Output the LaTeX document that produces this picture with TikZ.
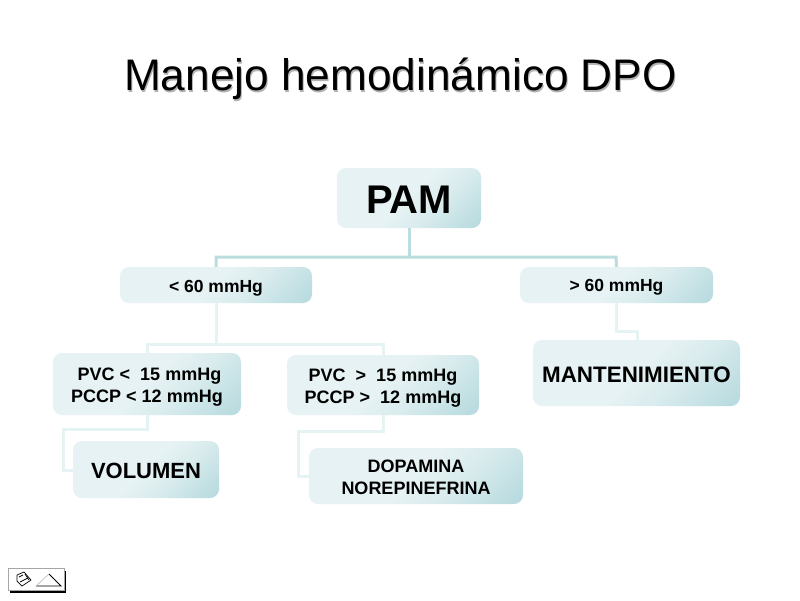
\documentclass[tikz,border=0pt]{standalone}
\usepackage{fontspec}
\setmainfont{Liberation Sans}
\definecolor{boxa}{HTML}{E6F2F3}
\definecolor{boxb}{HTML}{DAECEE}
\definecolor{boxc}{HTML}{BADCE0}
\definecolor{linedark}{HTML}{BBDDE0}
\definecolor{linelight}{HTML}{E6F3F4}
\pgfdeclarehorizontalshading{boxgrad}{100bp}{color(0bp)=(boxa); color(25bp)=(boxa); color(50bp)=(boxa); color(62bp)=(boxb); color(82bp)=(boxc); color(100bp)=(boxc)}
\tikzset{
 card/.style={shade,shading=boxgrad,shading angle=-45,rounded corners=9pt,inner sep=0pt,minimum width=#1},
 cardtext/.style={inner sep=0pt,align=center,text=black},
 topline/.style={draw=linedark,line width=3pt},
 subline/.style={draw=linelight,line width=3pt},
 titletext/.style={inner sep=0pt,font=\fontsize{44.2}{50}\selectfont},
}
\newcommand{\card}[8][-1.5pt]{\node[card=#5pt,minimum height=#6pt,label={[cardtext,yshift=#1,font=\bfseries\fontsize{#7}{22}\selectfont]center:{#8}}] (#2) at (#3,#4) {};}
\begin{document}
\begin{tikzpicture}[x=1pt,y=-1pt]
\useasboundingbox (0,0) rectangle (800,600);
\fill[white] (0,0) rectangle (800,600);
% title
\node[titletext,text=black!30] at (401.5,80.5) {Manejo hemodinámico DPO};
\node[titletext,text=black] (title) at (400.5,79) {Manejo hemodinámico DPO};
% connectors
\coordinate (hub) at (409,257);
\coordinate (hubL) at (216,257);
\coordinate (hubR) at (616,257);
\coordinate (midL) at (216,344);
\coordinate (midA) at (147,344);
\coordinate (midB) at (383,344);
\coordinate (volA) at (147,429);
\coordinate (volB) at (63,429);
\coordinate (volC) at (63,470);
\coordinate (dopA) at (383,431);
\coordinate (dopB) at (298,431);
\coordinate (dopC) at (298,476);
\coordinate (manA) at (616,331);
\coordinate (manB) at (637,331);
% boxes
\card{pam}{409}{198}{144}{60}{40}{PAM}
\card[-3pt]{lt}{216}{285}{192}{36}{17.5}{< 60 mmHg}
\card[-2.5pt]{gt}{616.5}{285}{193}{36}{17.5}{> 60 mmHg}
\card{man}{636.5}{373}{207}{66}{22.4}{MANTENIMIENTO}
\card[-3pt]{pvca}{147}{384}{188}{62}{18}{\ PVC <\ \ 15 mmHg\\PCCP < 12 mmHg}
\card[-3pt]{pvcb}{383}{385}{192}{60}{18}{PVC \ >\ \ 15 mmHg\\PCCP >\ \ 12 mmHg}
\card[-1pt]{vol}{146}{469.5}{146}{57}{22}{VOLUMEN}
\card[-1pt]{dop}{416}{476}{214}{56}{18}{DOPAMINA\\NOREPINEFRINA}
\draw[topline] (pam.south) -- (hub);
\draw[topline] (lt.north) -- (hubL) -- (hubR) -- (gt.north);
\draw[subline] (lt.south) -- (midL);
\draw[subline] (pvca.north -| midA) -- (midA) -- (midB) -- (pvcb.north -| midB);
\draw[subline] (pvca.south -| volA) -- (volA) -- (volB) -- (volC) -- (vol.west |- volC);
\draw[subline] (pvcb.south -| dopA) -- (dopA) -- (dopB) -- (dopC) -- (dop.west |- dopC);
\draw[subline] (gt.south -| manA) -- (manA) -- (manB) -- (man.north -| manB);
% small icon button
\fill[black] (10,571) rectangle (66,593);
\fill[white,draw=black!35,line width=.6pt] (8.5,568.5) rectangle (64,590);
\draw[black,line width=.9pt] (36,586) -- (61,586) -- (49,574);
\draw[black!25,line width=.7pt] (36,586) -- (49,574);
\draw[black,line width=.7pt,line join=round] (17,575) -- (24,572) -- (31,580) -- (22,586) -- (17,581) -- cycle;
\draw[black,line width=.7pt] (19,577) -- (23,575) (20,582) -- (28,578) (25,574) -- (29,580);
\end{tikzpicture}
\end{document}
